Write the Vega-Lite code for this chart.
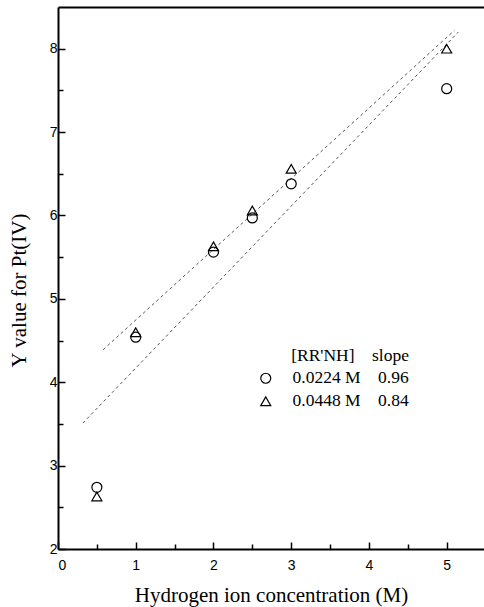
{
  "$schema": "https://vega.github.io/schema/vega-lite/v6.json",
  "autosize": {"type": "none"},
  "padding": {"left": 58, "top": 7, "right": 0, "bottom": 58},
  "width": 426,
  "height": 542,
  "background": "white",
  "config": {
    "view": {"stroke": null},
    "axis": {
      "domainColor": "black",
      "domainWidth": 2,
      "tickColor": "black",
      "tickWidth": 1.5,
      "labelFont": "Liberation Sans",
      "labelFontSize": 14,
      "labelColor": "black",
      "titleFont": "Liberation Serif",
      "titleFontSize": 21,
      "titleFontWeight": "normal",
      "titleColor": "black",
      "grid": false
    }
  },
  "datasets": {
    "points": [
      {"h": 0.5, "y": 2.74, "series": "0.0224 M"},
      {"h": 1, "y": 4.54, "series": "0.0224 M"},
      {"h": 2, "y": 5.56, "series": "0.0224 M"},
      {"h": 2.5, "y": 5.97, "series": "0.0224 M"},
      {"h": 3, "y": 6.38, "series": "0.0224 M"},
      {"h": 5, "y": 7.52, "series": "0.0224 M"},
      {"h": 0.5, "y": 2.63, "series": "0.0448 M"},
      {"h": 1, "y": 4.6, "series": "0.0448 M"},
      {"h": 2, "y": 5.63, "series": "0.0448 M"},
      {"h": 2.5, "y": 6.06, "series": "0.0448 M"},
      {"h": 3, "y": 6.56, "series": "0.0448 M"},
      {"h": 5, "y": 8.0, "series": "0.0448 M"}
    ],
    "fits": [
      {"h": 0.32, "y": 3.51, "fit": "0.0224 M"},
      {"h": 5.15, "y": 8.2, "fit": "0.0224 M"},
      {"h": 0.58, "y": 4.39, "fit": "0.0448 M"},
      {"h": 5.1, "y": 8.22, "fit": "0.0448 M"}
    ]
  },
  "layer": [
    {
      "data": {"name": "fits"},
      "mark": {"type": "line", "strokeDash": [3, 3], "strokeWidth": 1, "color": "#555555"},
      "encoding": {
        "x": {
          "field": "h", "type": "quantitative",
          "scale": {"domain": [0, 5.48], "nice": false, "zero": false},
          "axis": {"orient": "top", "labels": false, "ticks": false, "title": null, "domainWidth": 2}
        },
        "y": {
          "field": "y", "type": "quantitative",
          "scale": {"domain": [2, 8.5], "nice": false, "zero": false}
        },
        "detail": {"field": "fit"}
      }
    },
    {
      "data": {"name": "points"},
      "mark": {"type": "point", "filled": false, "strokeWidth": 1.2, "size": 100, "opacity": 1},
      "encoding": {
        "x": {
          "field": "h", "type": "quantitative",
          "axis": {
            "orient": "bottom",
            "title": "Hydrogen ion concentration (M)",
            "values": [0, 0.5, 1, 1.5, 2, 2.5, 3, 3.5, 4, 4.5, 5],
            "labelExpr": "datum.value % 1 == 0 ? format(datum.value, 'd') : ''",
            "tickSize": {"condition": {"test": "datum.value % 1 == 0", "value": -7}, "value": -5},
            "labelPadding": 16,
            "titlePadding": 12
          }
        },
        "y": {
          "field": "y", "type": "quantitative",
          "axis": {
            "title": "Y value for Pt(IV)",
            "titleY": 283,
            "values": [2, 2.5, 3, 3.5, 4, 4.5, 5, 5.5, 6, 6.5, 7, 7.5, 8],
            "labelExpr": "datum.value % 1 == 0 ? format(datum.value, 'd') : ''",
            "tickSize": {"condition": {"test": "datum.value % 1 == 0", "value": -7}, "value": -5},
            "labelPadding": 8,
            "titlePadding": 20
          }
        },
        "shape": {
          "field": "series", "type": "nominal",
          "scale": {"domain": ["0.0224 M", "0.0448 M"], "range": ["circle", "triangle-up"]},
          "legend": {
            "orient": "none",
            "legendX": 199,
            "legendY": 340,
            "title": "[RR'NH]\u00a0\u00a0\u00a0\u00a0slope",
            "titleAnchor": "end",
            "titleFont": "Liberation Serif",
            "titleFontSize": 17.5,
            "titleFontWeight": "normal",
            "titleColor": "black",
            "titlePadding": 5,
            "labelFont": "Liberation Serif",
            "labelFontSize": 17.5,
            "labelColor": "black",
            "labelOffset": 18,
            "labelExpr": "datum.label + '\u00a0\u00a0\u00a0\u00a0' + (datum.label == '0.0224 M' ? '0.96' : '0.84')",
            "symbolStrokeColor": "black",
            "symbolFillColor": "transparent",
            "symbolStrokeWidth": 1.2,
            "symbolSize": 100,
            "rowPadding": 4,
            "padding": 0
          }
        },
        "color": {"value": "black"}
      }
    }
  ]
}
